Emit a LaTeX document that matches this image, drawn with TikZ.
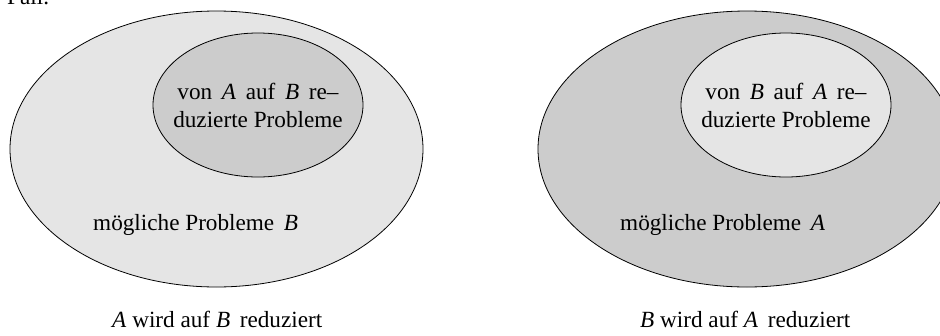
\documentclass[tikz,border=0pt]{standalone}
\usepackage{fontspec}
\setmainfont{Liberation Serif}
\begin{document}
\begin{tikzpicture}[x=1pt,y=-1pt,
  lbl/.style={inner sep=0pt,font=\fontsize{23.2}{28}\selectfont},
  blob/.style={draw=black,line width=0.8pt}]
\useasboundingbox (0,0) rectangle (940,335);
\definecolor{lightg}{gray}{0.9}
\definecolor{darkg}{gray}{0.8}
% left
\draw[blob,fill=lightg] (216.5,149) ellipse [x radius=206.5,y radius=138];
\draw[blob,fill=darkg] (258,105) ellipse [x radius=105,y radius=72];
% right
\draw[blob,fill=darkg] (747,149) ellipse [x radius=209,y radius=138];
\draw[blob,fill=lightg] (786,105) ellipse [x radius=105,y radius=72];
% texts
\node[lbl,anchor=base west] (fall) at (7,4) {Fall.};
\node[lbl,align=center] (inA) at (258,105) {von\, \textit{A}\, auf\, \textit{B}\, re--\\duzierte Probleme};
\node[lbl,align=center] (inB) at (786,105) {von\, \textit{B}\, auf\, \textit{A}\, re--\\duzierte Probleme};
\node[lbl,anchor=base west] (pB) at (93,230) {mögliche Probleme\, \textit{B}};
\node[lbl,anchor=base west] (pA) at (620,230) {mögliche Probleme\, \textit{A}};
\node[lbl,anchor=base west] (rA) at (112,327) {\textit{A} wird auf \textit{B}\, reduziert};
\node[lbl,anchor=base west] (rB) at (640,327) {\textit{B} wird auf \textit{A}\, reduziert};
\end{tikzpicture}
\end{document}
